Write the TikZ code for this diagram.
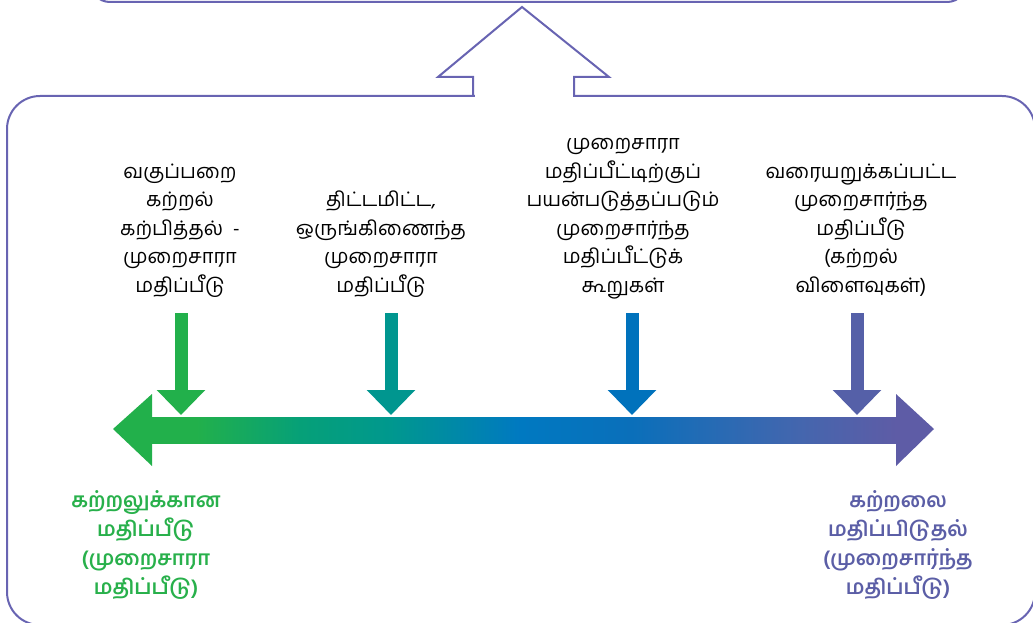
\documentclass[tikz,border=0pt]{standalone}
\usepackage{fontspec}
\newfontfamily\tam[Script=Tamil]{Hind Madurai}
\usetikzlibrary{arrows.meta}
\definecolor{outl}{RGB}{104,100,178}
\definecolor{cgreen}{RGB}{34,176,75}
\definecolor{cmid}{RGB}{6,160,120}
\definecolor{cteal}{RGB}{0,152,142}
\definecolor{cblue}{RGB}{0,121,193}
\definecolor{cbluetwo}{RGB}{10,111,186}
\definecolor{cbluethree}{RGB}{68,102,174}
\definecolor{cpurple}{RGB}{94,92,166}
\definecolor{atwo}{RGB}{0,150,143}
\definecolor{athree}{RGB}{0,114,188}
\definecolor{afour}{RGB}{85,96,168}
\definecolor{tgreen}{RGB}{40,176,75}
\definecolor{tpurple}{RGB}{91,94,166}
\pgfdeclarehorizontalshading{tline}{100bp}{color(0bp)=(cgreen); color(28bp)=(cgreen); color(35bp)=(cmid); color(41bp)=(cteal); color(49.75bp)=(cblue); color(57.25bp)=(cbluetwo); color(68.5bp)=(cbluethree); color(75bp)=(cpurple); color(100bp)=(cpurple)}
\begin{document}
\begin{tikzpicture}[x=1pt,y=-1pt,
  outline/.style={draw=outl, line width=2pt},
  txt/.style={font=\tam\fontsize{20}{28.5}\selectfont, align=center, anchor=base, inner sep=0pt, text=black},
  btxt/.style={font=\tam\bfseries\fontsize{20.5}{29}\selectfont, align=center, anchor=base, inner sep=0pt},
  darrow/.style={line width=13pt, -{Triangle[width=47pt,length=25pt]}}]
\useasboundingbox (0,0) rectangle (1033,623);
\clip (0,0) rectangle (1033,623);
% top box (only bottom edge visible)
\draw[outline, rounded corners=20] (90,-60) rectangle (967,2);
% bottom box
\draw[outline, rounded corners=33] (7,96) rectangle (1035,625);
\fill[white] (474.5,92) rectangle (572.5,100);
\draw[outline, line join=miter] (473,96) -- (473,77) -- (438,77) -- (522,7) -- (609,77) -- (574,77) -- (574,96);
% timeline
\shade[shading=tline] (152,417) rectangle (896,443);
\fill[cgreen] (152,394) -- (113,429) -- (152,466) -- cycle;
\fill[cpurple] (896,394) -- (934,429) -- (896,466) -- cycle;
% labels
\node[txt] (t1) at (180,292) {வகுப்பறை\\கற்றல்\\கற்பித்தல் \ -\\முறைசாரா\\மதிப்பீடு};
\node[txt] (t2) at (381,292) {திட்டமிட்ட,\\ஒருங்கிணைந்த\\முறைசாரா\\மதிப்பீடு};
\node[txt] (t3) at (623,292) {முறைசாரா\\மதிப்பீட்டிற்குப்\\பயன்படுத்தப்படும்\\முறைசார்ந்த\\மதிப்பீட்டுக்\\கூறுகள்};
\node[txt] (t4) at (861,292) {வரையறுக்கப்பட்ட\\முறைசார்ந்த\\மதிப்பீடு\\(கற்றல்\\விளைவுகள்)};
\node[btxt, text=tgreen] (b1) at (146,594) {கற்றலுக்கான\\மதிப்பீடு\\(முறைசாரா\\மதிப்பீடு)};
\node[btxt, text=tpurple] (b2) at (898,594) {கற்றலை\\மதிப்பிடுதல்\\(முறைசார்ந்த\\மதிப்பீடு)};
% down arrows
\coordinate (s1) at (181,313); \coordinate (e1) at (181,415);
\coordinate (s2) at (391,313); \coordinate (e2) at (391,415);
\coordinate (s3) at (632,313); \coordinate (e3) at (632,415);
\coordinate (s4) at (857,313); \coordinate (e4) at (857,415);
\draw[darrow, cgreen] (s1) -- (e1);
\draw[darrow, atwo] (s2) -- (e2);
\draw[darrow, athree] (s3) -- (e3);
\draw[darrow, afour] (s4) -- (e4);
\end{tikzpicture}
\end{document}
